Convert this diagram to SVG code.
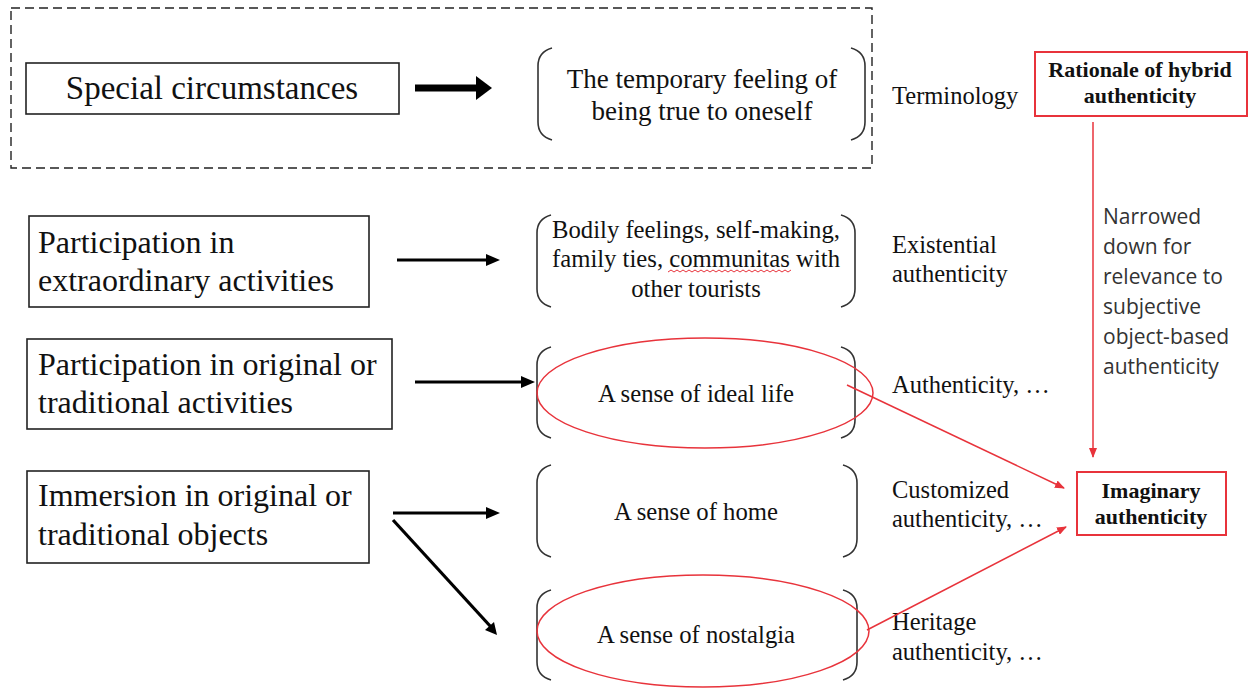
<svg xmlns="http://www.w3.org/2000/svg" width="1249" height="689" viewBox="0 0 1249 689">
<style>
text.serif{font-family:'Liberation Serif','Times New Roman',serif;fill:#111}
.box{fill:none;stroke:#222;stroke-width:1.6}
.br{fill:none;stroke:#333;stroke-width:1.6}
.red{fill:none;stroke:#e8333b;stroke-width:1.5}
.redbox{fill:#fff;stroke:#e8333b;stroke-width:2}
.arr{stroke:#000;stroke-width:3.2;fill:none}
.lbl{font-size:24.5px}
.inner{font-size:24.7px}
.left{font-size:32px}
.bold{font-size:22px;font-weight:bold}
text.sans{font-family:'Open Sans','Noto Sans',sans-serif;fill:#333;font-size:21px}
</style>
<defs>
<marker id="ahr" markerWidth="10" markerHeight="8" refX="9" refY="4" orient="auto" markerUnits="userSpaceOnUse">
<path d="M0,0 L10,4 L0,8 Z" fill="#e8333b"/>
</marker>
</defs>
<rect width="1249" height="689" fill="#fff"/>

<g id="frame">
<rect x="11" y="8" width="861" height="160" fill="none" stroke="#222" stroke-width="1.4" stroke-dasharray="9,5"/>
</g>

<g id="n-special">
<rect class="box" x="26" y="63" width="373" height="51"/>
<text class="serif" x="212" y="99" font-size="33" text-anchor="middle">Special circumstances</text>
</g>

<g id="n-temporary">
<path class="br" d="M552,48 Q538,52 538,66 L538,122 Q538,136 552,140"/>
<path class="br" d="M851,48 Q865,52 865,66 L865,122 Q865,136 851,140"/>
<text class="serif" x="702" y="88" font-size="27" text-anchor="middle">The temporary feeling of</text>
<text class="serif" x="702" y="120" font-size="27" text-anchor="middle">being true to oneself</text>
</g>

<g id="n-terminology">
<text class="serif lbl" x="892" y="104">Terminology</text>
</g>

<g id="n-rationale">
<rect class="redbox" x="1035" y="52" width="212" height="64"/>
<text class="serif bold" x="1140" y="77" text-anchor="middle">Rationale of hybrid</text>
<text class="serif bold" x="1140" y="103" text-anchor="middle">authenticity</text>
</g>

<g id="n-narrowed">
<text class="sans" x="1103" y="224">Narrowed</text>
<text class="sans" x="1103" y="254">down for</text>
<text class="sans" x="1103" y="284">relevance to</text>
<text class="sans" x="1103" y="314">subjective</text>
<text class="sans" x="1103" y="344">object-based</text>
<text class="sans" x="1103" y="374">authenticity</text>
</g>

<g id="n-extra">
<rect class="box" x="29" y="216" width="340" height="91"/>
<text class="serif left" x="38" y="253">Participation in</text>
<text class="serif left" x="38" y="291">extraordinary activities</text>
</g>

<g id="n-bodily">
<path class="br" d="M551,215 Q537,219 537,233 L537,289 Q537,303 551,307"/>
<path class="br" d="M841,215 Q855,219 855,233 L855,289 Q855,303 841,307"/>
<text class="serif inner" x="696" y="238" text-anchor="middle">Bodily feelings, self-making,</text>
<text class="serif inner" x="696" y="267" text-anchor="middle">family ties, communitas with</text>
<text class="serif inner" x="696" y="297" text-anchor="middle">other tourists</text>
<path d="M668,272 l3,-2 l3,2 l3,-2 l3,2 l3,-2 l3,2 l3,-2 l3,2 l3,-2 l3,2 l3,-2 l3,2 l3,-2 l3,2 l3,-2 l3,2 l3,-2 l3,2 l3,-2 l3,2 l3,-2 l3,2 l3,-2 l3,2 l3,-2 l3,2 l3,-2 l3,2 l3,-2 l3,2 l3,-2 l3,2 l3,-2 l3,2 l3,-2 l3,2 l3,-2 l3,2 l3,-2 l3,2 l3,-2" fill="none" stroke="#e8333b" stroke-width="1"/>
</g>

<g id="n-existential">
<text class="serif lbl" x="892" y="253">Existential</text>
<text class="serif lbl" x="892" y="282">authenticity</text>
</g>

<g id="n-original">
<rect class="box" x="27" y="339" width="365" height="90"/>
<text class="serif left" x="38" y="375">Participation in original or</text>
<text class="serif left" x="38" y="413">traditional activities</text>
</g>

<g id="n-ideal">
<path class="br" d="M551,347 Q537,351 537,365 L537,420 Q537,434 551,438"/>
<path class="br" d="M841,347 Q855,351 855,365 L855,420 Q855,434 841,438"/>
<text class="serif inner" x="696" y="402" text-anchor="middle">A sense of ideal life</text>
<ellipse class="red" cx="705" cy="393" rx="168" ry="55"/>
</g>

<g id="n-auth">
<text class="serif lbl" x="892" y="393">Authenticity, …</text>
</g>

<g id="n-immersion">
<rect class="box" x="27" y="471" width="342" height="92"/>
<text class="serif left" x="38" y="506">Immersion in original or</text>
<text class="serif left" x="38" y="545">traditional objects</text>
</g>

<g id="n-home">
<path class="br" d="M551,465 Q537,469 537,483 L537,539 Q537,553 551,557"/>
<path class="br" d="M843,465 Q857,469 857,483 L857,539 Q857,553 843,557"/>
<text class="serif inner" x="696" y="520" text-anchor="middle">A sense of home</text>
</g>

<g id="n-customized">
<text class="serif lbl" x="892" y="498">Customized</text>
<text class="serif lbl" x="892" y="527">authenticity, …</text>
</g>

<g id="n-nostalgia">
<path class="br" d="M551,590 Q537,594 537,608 L537,662 Q537,676 551,680"/>
<path class="br" d="M843,590 Q857,594 857,608 L857,662 Q857,676 843,680"/>
<text class="serif inner" x="696" y="643" text-anchor="middle">A sense of nostalgia</text>
<ellipse class="red" cx="703" cy="631" rx="166" ry="56"/>
</g>

<g id="n-heritage">
<text class="serif lbl" x="892" y="630">Heritage</text>
<text class="serif lbl" x="892" y="660">authenticity, …</text>
</g>

<g id="n-imaginary">
<rect class="redbox" x="1077" y="472" width="149" height="63"/>
<text class="serif bold" x="1151" y="498" text-anchor="middle">Imaginary</text>
<text class="serif bold" x="1151" y="524" text-anchor="middle">authenticity</text>
</g>

<g id="connectors">
<line x1="415" y1="88" x2="480" y2="88" stroke="#000" stroke-width="7"/>
<path d="M476,76 L492,88 L476,100 Z" fill="#000"/>
<line class="arr" x1="397" y1="260" x2="492" y2="260"/>
<path d="M486,254 L500,260 L486,266 Z" fill="#000"/>
<line class="arr" x1="415" y1="382" x2="527" y2="382"/>
<path d="M521,376 L535,382 L521,388 Z" fill="#000"/>
<line class="arr" x1="393" y1="513" x2="492" y2="513"/>
<path d="M486,507 L500,513 L486,519 Z" fill="#000"/>
<line class="arr" x1="393" y1="520" x2="491" y2="627"/>
<path d="M485,630 L497,635 L494,622 Z" fill="#000"/>
<line class="red" x1="1093" y1="122" x2="1093" y2="457" marker-end="url(#ahr)"/>
<line class="red" x1="847" y1="385" x2="1064" y2="488" marker-end="url(#ahr)"/>
<line class="red" x1="867" y1="630" x2="1066" y2="527" marker-end="url(#ahr)"/>
</g>
</svg>
